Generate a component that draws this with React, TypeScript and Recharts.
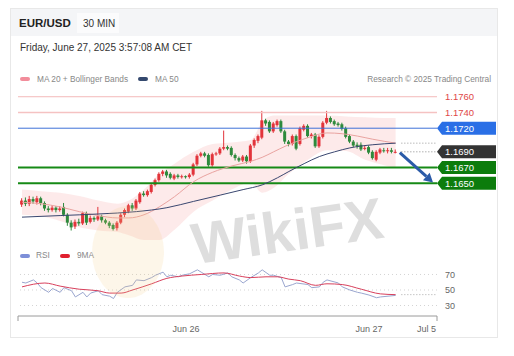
import React from 'react';
import { ComposedChart, Bar, Line, Area, XAxis, YAxis, ReferenceLine } from 'recharts';

const FONT = '"Liberation Sans", Arial, sans-serif';

// 30 min candles, Jun 25 02:30 -> Jun 27 03:30  [open, high, low, close]
const candles: [number, number, number, number][] = [
  [1.1623, 1.1631, 1.162, 1.1628], [1.1628, 1.1632, 1.1621, 1.1624], [1.1624, 1.1634, 1.1621, 1.163],
  [1.163, 1.1633, 1.1624, 1.1627], [1.1626, 1.1634, 1.1623, 1.1631], [1.1631, 1.1633, 1.1622, 1.1625],
  [1.1625, 1.1627, 1.1615, 1.1618], [1.1618, 1.1621, 1.1613, 1.1616], [1.1616, 1.1622, 1.1614, 1.1619],
  [1.1619, 1.1621, 1.1613, 1.1616], [1.1616, 1.1621, 1.1614, 1.1618], [1.162, 1.1625, 1.1608, 1.161],
  [1.161, 1.1612, 1.1596, 1.16], [1.16, 1.1603, 1.159, 1.1594], [1.1595, 1.1604, 1.1592, 1.1601],
  [1.1601, 1.1605, 1.1596, 1.1599], [1.1599, 1.1614, 1.1597, 1.1612], [1.1612, 1.1614, 1.1597, 1.16],
  [1.1601, 1.1609, 1.1599, 1.1606], [1.1606, 1.1608, 1.1601, 1.1604], [1.1604, 1.162, 1.1602, 1.1608],
  [1.1608, 1.161, 1.16, 1.1603], [1.1603, 1.1605, 1.1598, 1.16], [1.16, 1.1602, 1.1593, 1.1596],
  [1.1597, 1.1599, 1.159, 1.1592], [1.1593, 1.1602, 1.159, 1.16], [1.16, 1.1612, 1.1598, 1.161],
  [1.161, 1.1618, 1.1607, 1.1616], [1.1614, 1.1624, 1.1612, 1.1622], [1.1622, 1.1625, 1.1615, 1.1618],
  [1.1618, 1.163, 1.1616, 1.1628], [1.1626, 1.1639, 1.1624, 1.1637], [1.1637, 1.164, 1.1633, 1.1635],
  [1.1635, 1.1642, 1.1633, 1.164], [1.1639, 1.165, 1.1637, 1.1648], [1.1648, 1.1656, 1.1646, 1.1654],
  [1.1654, 1.1664, 1.1652, 1.1662], [1.1662, 1.1667, 1.1659, 1.1665], [1.1665, 1.1667, 1.1657, 1.166],
  [1.1662, 1.1664, 1.1655, 1.1657], [1.1656, 1.1662, 1.1654, 1.166], [1.166, 1.1662, 1.1656, 1.1658],
  [1.1658, 1.1661, 1.1656, 1.1659], [1.1659, 1.166, 1.1656, 1.1658], [1.1658, 1.1663, 1.1656, 1.1661],
  [1.1661, 1.1676, 1.1659, 1.1674], [1.1674, 1.1687, 1.1672, 1.1685], [1.1685, 1.169, 1.1683, 1.1688],
  [1.1688, 1.169, 1.1683, 1.1685], [1.1686, 1.1688, 1.1671, 1.1673], [1.1673, 1.1689, 1.1671, 1.1687],
  [1.1687, 1.169, 1.1685, 1.1688], [1.1688, 1.1696, 1.1686, 1.1694], [1.1694, 1.1717, 1.1692, 1.1696],
  [1.1696, 1.1698, 1.1692, 1.1694], [1.1695, 1.1697, 1.1684, 1.1686], [1.1686, 1.1688, 1.1679, 1.1682],
  [1.1682, 1.1684, 1.1677, 1.1679], [1.1679, 1.1686, 1.1677, 1.1684], [1.1684, 1.1686, 1.1675, 1.1678],
  [1.1678, 1.17, 1.1676, 1.1698], [1.1698, 1.1707, 1.1695, 1.1705], [1.1704, 1.1712, 1.1701, 1.171],
  [1.1708, 1.1742, 1.1706, 1.173], [1.173, 1.1732, 1.1723, 1.1726], [1.1728, 1.173, 1.1714, 1.1716],
  [1.1716, 1.1728, 1.1714, 1.1726], [1.1724, 1.1731, 1.1722, 1.1729], [1.1729, 1.1731, 1.1714, 1.1716],
  [1.1716, 1.1718, 1.17, 1.1703], [1.1703, 1.1705, 1.1697, 1.17], [1.17, 1.1712, 1.1698, 1.171],
  [1.171, 1.1712, 1.1692, 1.1694], [1.17, 1.1722, 1.1698, 1.172], [1.1718, 1.1725, 1.1716, 1.1723],
  [1.1723, 1.1725, 1.1708, 1.171], [1.171, 1.1714, 1.1707, 1.1712], [1.1712, 1.1714, 1.1695, 1.1697],
  [1.1697, 1.1711, 1.1695, 1.1709], [1.1709, 1.1729, 1.1707, 1.1727], [1.1727, 1.1742, 1.1725, 1.1733],
  [1.1733, 1.1735, 1.1726, 1.1728], [1.1729, 1.1731, 1.1723, 1.1725], [1.1726, 1.1728, 1.1722, 1.1724],
  [1.1725, 1.1727, 1.1717, 1.1719], [1.172, 1.1722, 1.1707, 1.1709], [1.171, 1.1712, 1.1701, 1.1703],
  [1.1703, 1.1705, 1.1696, 1.1698], [1.1699, 1.1702, 1.1694, 1.1697], [1.1699, 1.1702, 1.1691, 1.1693],
  [1.1694, 1.1698, 1.1692, 1.1695], [1.1696, 1.1698, 1.1687, 1.1689], [1.169, 1.1692, 1.168, 1.1682],
  [1.168, 1.1692, 1.1678, 1.169], [1.1689, 1.1695, 1.1687, 1.1693], [1.1692, 1.1695, 1.1689, 1.1691],
  [1.1691, 1.1695, 1.1688, 1.1692], [1.1692, 1.1695, 1.1688, 1.169], [1.169, 1.1693, 1.1688, 1.169],
];

// [candle index, value]
const ma20 = [
  [0, 1.1626], [5, 1.1624], [10, 1.162], [15, 1.1614], [20, 1.1609], [25, 1.1606], [28, 1.1606],
  [32, 1.161], [36, 1.162], [40, 1.1633], [45, 1.1652], [50, 1.1664], [55, 1.1672], [60, 1.1678],
  [63, 1.1683], [66, 1.169], [69, 1.1697], [72, 1.1703], [75, 1.1708], [80, 1.1714], [84, 1.1713],
  [88, 1.171], [92, 1.1706], [98, 1.1701],
];
const bandUpper = [
  [0, 1.1642], [5, 1.164], [10, 1.1638], [15, 1.1634], [20, 1.1628], [25, 1.1624], [28, 1.1628],
  [32, 1.1642], [36, 1.1662], [40, 1.1675], [45, 1.169], [50, 1.17], [55, 1.1702], [60, 1.1705],
  [63, 1.1728], [66, 1.1736], [70, 1.1736], [75, 1.1736], [80, 1.1736], [85, 1.1735], [90, 1.1734],
  [95, 1.1733], [98, 1.1733],
];
const bandLower = [
  [0, 1.161], [5, 1.1608], [10, 1.1602], [15, 1.1594], [20, 1.159], [25, 1.1588], [28, 1.1584],
  [32, 1.1578], [36, 1.1578], [40, 1.1591], [45, 1.1614], [50, 1.1628], [55, 1.1642], [60, 1.1651],
  [63, 1.1638], [66, 1.1644], [70, 1.1662], [75, 1.168], [80, 1.1692], [85, 1.1691], [90, 1.168],
  [95, 1.1673], [98, 1.1669],
];
const ma50 = [
  [0, 1.1607], [10, 1.1609], [20, 1.1611], [30, 1.1614], [38, 1.1619], [45, 1.1627], [52, 1.1635],
  [58, 1.1642], [63, 1.1648], [67, 1.1657], [70, 1.1665], [74, 1.1675], [78, 1.1684], [82, 1.169],
  [86, 1.1695], [92, 1.1699], [98, 1.1701],
];
const rsi = [
  [0, 60], [1, 59], [3, 63], [4, 59], [5, 53], [7, 47], [8, 52], [10, 47], [11, 53], [13, 49], [14, 41],
  [16, 47], [17, 41], [18, 46], [20, 49], [21, 44], [23, 42], [24, 39], [25, 47], [27, 54], [29, 56],
  [30, 63], [32, 62], [34, 66], [35, 69], [37, 73], [38, 67], [39, 69], [41, 67], [42, 69], [44, 71],
  [46, 76], [47, 73], [49, 67], [50, 70], [52, 69], [54, 72], [55, 67], [57, 63], [58, 59], [60, 66],
  [62, 72], [63, 76], [65, 69], [66, 69], [68, 66], [69, 54], [71, 57], [72, 59], [75, 57], [76, 53],
  [78, 54], [79, 60], [80, 63], [83, 59], [84, 54], [86, 50], [88, 47], [89, 46], [91, 43.5], [93, 40],
  [94, 41], [98, 43],
];
const rsi9ma = [
  [0, 54], [6, 59], [10, 55], [15, 51], [20, 49], [23, 46], [26, 46], [29, 50], [34, 58], [38, 65],
  [42, 68], [47, 70], [53, 72], [57, 68], [60, 66], [64, 67], [67, 67], [70, 64], [73, 62], [77, 56],
  [80, 58], [84, 57], [89, 51], [94, 45], [98, 44],
];

const levels = [
  { v: 1.176, text: '1.1760', line: '#f3b9b9', w: 1, bg: '', fg: '#e04848' },
  { v: 1.174, text: '1.1740', line: '#f5c2c2', w: 1.5, bg: '', fg: '#e04848' },
  { v: 1.172, text: '1.1720', line: '#3f72d8', w: 1, bg: '#2a6fe6', fg: '#fff' },
  { v: 1.167, text: '1.1670', line: '#168a16', w: 2, bg: '#0c7c0c', fg: '#fff' },
  { v: 1.165, text: '1.1650', line: '#168a16', w: 2, bg: '#0c7c0c', fg: '#fff' },
];
const lastPrice = 1.169;
const lastMa = 1.1701;
const lastRsiMa = 44;
const arrowFrom = { x: 99.1, y: 1.1689 };
const arrowTo = { x: 107.8, y: 1.1651 };
const X_DOMAIN: [number, number] = [-1.05, 108.85];
const xTicks = [X_DOMAIN[0], 43, 91, 106.1, X_DOMAIN[1]];
const xTickLabels = ['', 'Jun 26', 'Jun 27', 'Jul 5', ''];

const candleData = candles.map(([o, h, l, c], i) => ({ i, o, h, l, c, range: [l, h] }));
const toPts = (a: number[][]) => a.map(([i, v]) => ({ i, v }));
const bandData = bandUpper.map(([i, hi], k) => ({ i, band: [bandLower[k][1], hi] }));

const Candle = (props: any) => {
  const { x, y, width, height, payload } = props;
  if (!payload) return null;
  const { o, h, l, c } = payload;
  const color = c >= o ? '#e2343b' : '#2e8a3c';
  const top = Math.min(y, y + height);
  const hh = Math.abs(height);
  const k = hh / (h - l);
  const by = top + (h - Math.max(o, c)) * k;
  const bh = Math.max(1, Math.abs(o - c) * k);
  const cx = x + width / 2;
  return (
    <g>
      <line x1={cx} x2={cx} y1={top} y2={top + hh} stroke={color} strokeWidth={1} />
      <rect x={x} y={by} width={width} height={bh} fill={color} />
    </g>
  );
};

const Tag = (props: any) => {
  const { viewBox, text, bg, fg } = props;
  if (!viewBox) return null;
  const x = viewBox.x + viewBox.width;
  const y = viewBox.y;
  if (!bg) {
    return (
      <text x={x + 8} y={y + 3.3} fill={fg} fontSize={9.5} fontFamily={FONT}>{text}</text>
    );
  }
  const w = 59;
  const h = 13;
  const pts = `${x},${y} ${x + 5},${y - h / 2} ${x + w},${y - h / 2} ${x + w},${y + h / 2} ${x + 5},${y + h / 2}`;
  return (
    <g>
      <polygon points={pts} fill={bg} />
      <text x={x + 8} y={y + 3.5} fill={fg} fontSize={9.5} fontFamily={FONT}>{text}</text>
    </g>
  );
};

const Arrow = (props: any) => {
  const { x1, y1, x2, y2 } = props;
  const a = Math.atan2(y2 - y1, x2 - x1);
  const L = 9;
  const hx = x2 - Math.cos(a) * L;
  const hy = y2 - Math.sin(a) * L;
  const p1 = `${x2},${y2}`;
  const p2 = `${hx + Math.sin(a) * 5},${hy - Math.cos(a) * 5}`;
  const p3 = `${hx - Math.sin(a) * 5},${hy + Math.cos(a) * 5}`;
  return (
    <g>
      <line x1={x1} y1={y1} x2={hx} y2={hy} stroke="#2b5ba8" strokeWidth={3} />
      <polygon points={`${p1} ${p2} ${p3}`} fill="#2b5ba8" />
    </g>
  );
};

// axis labels; only the two ends get a small tick mark
const TimeTick = (props: any) => {
  const { x, y, payload, index } = props;
  const label = xTickLabels[index] ?? '';
  if (!label) {
    return <line x1={x} x2={x} y1={y - 8} y2={y - 3} stroke="#9a9a9a" />;
  }
  return (
    <text x={x} y={y + 8} textAnchor="middle" fontSize={9} fill="#666" fontFamily={FONT}>{label}</text>
  );
};

const txt = (left: number, cy: number, size: number, color: string, s: string, extra: any = {}) => (
  <div
    style={{
      position: 'absolute', left, top: cy - size * 0.6, fontSize: size, lineHeight: `${size * 1.2}px`,
      color, whiteSpace: 'nowrap', ...extra,
    }}
  >
    {s}
  </div>
);

const Swatch = ({ left, top, color }: { left: number; top: number; color: string }) => (
  <div style={{ position: 'absolute', left, top, width: 10, height: 4, borderRadius: 2, background: color }} />
);

export default function App() {
  return (
    <div style={{ position: 'absolute', left: 0, top: 0, width: 514, height: 356, background: '#fff', fontFamily: FONT, overflow: 'hidden' }}>
      <div style={{ position: 'absolute', left: 10, top: 8, width: 488, height: 330, border: '1px solid #e8e8e8', boxSizing: 'border-box' }} />
      <div style={{ position: 'absolute', left: 11, top: 9, width: 486, height: 27, background: '#f4f5f7' }} />
      <div style={{ position: 'absolute', left: 77, top: 13, width: 42, height: 20, background: '#fbfbfc' }} />
      {txt(19, 24, 11.5, '#222', 'EUR/USD', { fontWeight: 'bold' })}
      {txt(83, 24, 10, '#333', '30 MIN')}
      {txt(20, 48, 10, '#333', 'Friday, June 27, 2025 3:57:08 AM CET')}

      <Swatch left={20} top={77} color="#f28d9b" />
      {txt(37, 79.5, 8.3, '#888', 'MA 20 + Bollinger Bands')}
      <Swatch left={138} top={77} color="#34496e" />
      {txt(155, 79.5, 8.3, '#888', 'MA 50')}
      {txt(300, 79.5, 8.3, '#888', 'Research © 2025 Trading Central', { width: 191, textAlign: 'right' })}

      <Swatch left={20} top={254} color="#7d8fd8" />
      {txt(36, 256, 8.3, '#888', 'RSI')}
      <Swatch left={60} top={254} color="#e0202f" />
      {txt(77, 256, 8.3, '#888', '9MA')}

      <div style={{ position: 'absolute', left: 0, top: 88 }}>
        <ComposedChart width={514} height={157} data={candleData} margin={{ top: 0, right: 77, bottom: 0, left: 18 }}>
          <XAxis dataKey="i" type="number" domain={X_DOMAIN} allowDataOverflow hide />
          <YAxis type="number" domain={[1.15716, 1.17711]} allowDataOverflow hide />
          <Area data={bandData} dataKey="band" type="monotone" stroke="none" fill="#fbdcdc" fillOpacity={0.6} isAnimationActive={false} />
          {levels.map((lv) => (
            <ReferenceLine
              key={lv.text}
              y={lv.v}
              stroke={lv.line}
              strokeWidth={lv.w}
              ifOverflow="visible"
              label={<Tag text={lv.text} bg={lv.bg} fg={lv.fg} />}
            />
          ))}
          <ReferenceLine
            segment={[{ x: 99.5, y: lastMa }, { x: X_DOMAIN[1], y: lastMa }]}
            stroke="#999"
            strokeDasharray="1 2"
            ifOverflow="visible"
          />
          <ReferenceLine
            segment={[{ x: 99.5, y: lastPrice }, { x: X_DOMAIN[1], y: lastPrice }]}
            stroke="#888"
            strokeDasharray="1 2"
            ifOverflow="visible"
            label={<Tag text="1.1690" bg="#333333" fg="#fff" />}
          />
          <Line data={toPts(ma20)} dataKey="v" type="monotone" dot={false} stroke="#e9a3a0" strokeWidth={1} isAnimationActive={false} />
          <Line data={toPts(ma50)} dataKey="v" type="monotone" dot={false} stroke="#3a4770" strokeWidth={1} isAnimationActive={false} />
          <Bar dataKey="range" barSize={3} shape={<Candle />} isAnimationActive={false} />
          <ReferenceLine segment={[arrowFrom, arrowTo]} ifOverflow="visible" shape={<Arrow />} />
        </ComposedChart>
      </div>

      <div style={{ position: 'absolute', left: 0, top: 258 }}>
        <ComposedChart width={514} height={80} margin={{ top: 4, right: 37, bottom: 0, left: 18 }}>
          <XAxis
            dataKey="i"
            type="number"
            domain={X_DOMAIN}
            allowDataOverflow
            ticks={xTicks}
            interval={0}
            tickLine={false}
            axisLine={{ stroke: '#9a9a9a' }}
            tick={<TimeTick />}
            height={22}
          />
          <YAxis
            orientation="right"
            type="number"
            domain={[16.45, 86.1]}
            allowDataOverflow
            ticks={[30, 50, 70]}
            width={40}
            tickLine={false}
            axisLine={false}
            tick={{ fontSize: 9, fill: '#666', fontFamily: FONT }}
          />
          {[30, 50, 70].map((v) => (
            <ReferenceLine key={v} y={v} stroke="#d4d4d4" strokeDasharray="1 3" />
          ))}
          <ReferenceLine
            segment={[{ x: 99.5, y: lastRsiMa }, { x: X_DOMAIN[1], y: lastRsiMa }]}
            stroke="#aaa"
            strokeDasharray="1 2"
            ifOverflow="visible"
          />
          <Line data={toPts(rsi)} dataKey="v" type="linear" dot={false} stroke="#9aa6cf" strokeWidth={1} isAnimationActive={false} />
          <Line data={toPts(rsi9ma)} dataKey="v" type="monotone" dot={false} stroke="#d8405c" strokeWidth={1} isAnimationActive={false} />
        </ComposedChart>
      </div>

      <svg width={514} height={356} style={{ position: 'absolute', left: 0, top: 0, pointerEvents: 'none' }}>
        <ellipse cx={128} cy={252} rx={36} ry={46} fill="#f4cf86" opacity={0.18} />
        <text
          x={190}
          y={252}
          fontSize={58}
          fontWeight="bold"
          fontFamily={FONT}
          fill="#8a8a8a"
          opacity={0.28}
          transform="rotate(-8 280 225)"
        >
          WikiFX
        </text>
      </svg>
    </div>
  );
}
